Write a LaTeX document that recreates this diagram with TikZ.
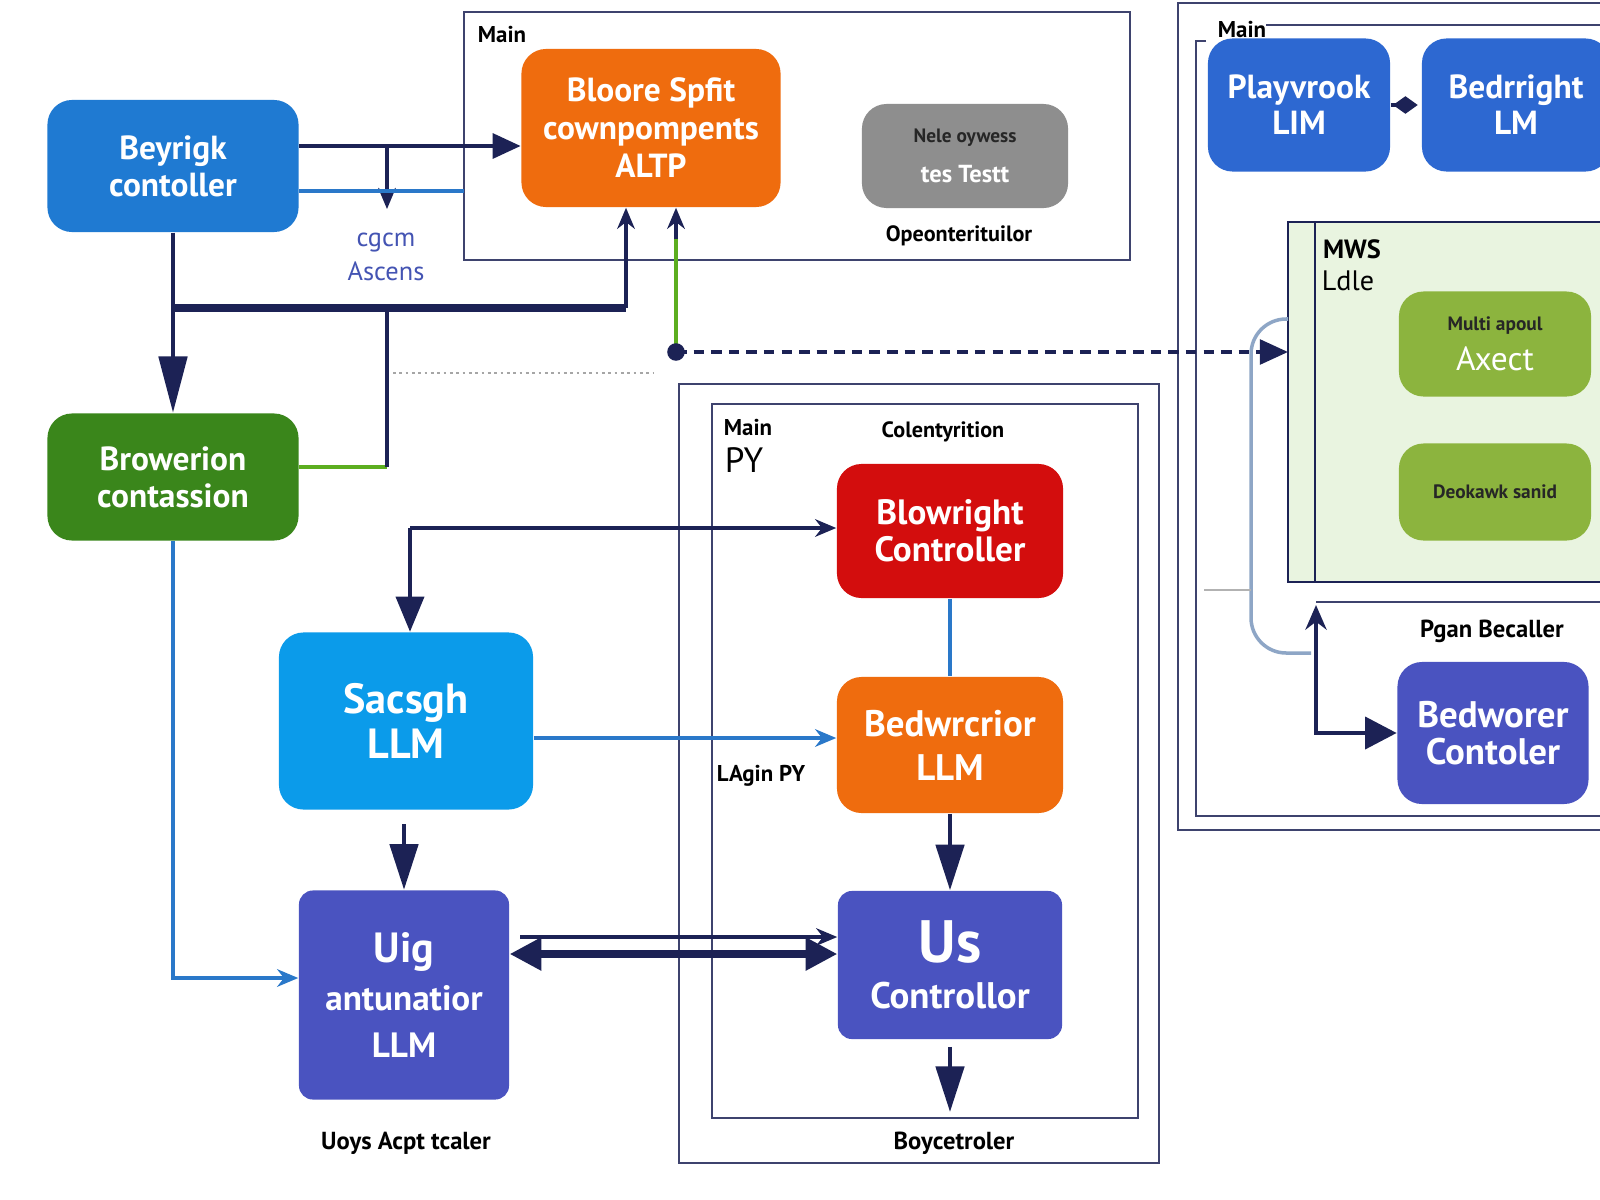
\documentclass[tikz,border=0pt]{standalone}
\usepackage{fontspec}
\setmainfont{PT Sans}
\usetikzlibrary{arrows.meta}
\definecolor{navy}{HTML}{1C2255}
\definecolor{beyblue}{HTML}{1F7AD2}
\definecolor{browgreen}{HTML}{3A861B}
\definecolor{orangebox}{HTML}{EF6C0E}
\definecolor{greybox}{HTML}{8E8E8E}
\definecolor{playblue}{HTML}{2D68D1}
\definecolor{leafgreen}{HTML}{8CB43E}
\definecolor{panelgreen}{HTML}{E9F4E0}
\definecolor{indigo}{HTML}{4A53C0}
\definecolor{skyblue}{HTML}{0B9BEA}
\definecolor{redbox}{HTML}{D30D0D}
\definecolor{thinblue}{HTML}{2A78C9}
\definecolor{wiregreen}{HTML}{5CAE1F}
\definecolor{steel}{HTML}{8EA6C6}

\begin{document}
\begin{tikzpicture}[x=0.01cm, y=-0.01cm,
    box/.style={rounded corners=7pt, text=white, align=center,
      font=\bfseries\fontsize{9.5}{10.5}\selectfont},
    frame/.style={draw=navy!85, line width=0.7pt},
    lbl/.style={font=\bfseries\fontsize{6.5}{8}\selectfont},
    link/.style={draw=navy, line width=1.3pt},
    bline/.style={draw=thinblue, line width=1pt},
    stip/.style={-{Stealth[length=6pt,width=5pt]}},
    bigtip/.style={-{Triangle[length=13pt,width=8pt]}}]
  \useasboundingbox (0,0) rectangle (1600,1200);
  \clip (0,0) rectangle (1600,1200);
  \fill[white] (0,0) rectangle (1600,1200);

  % frames
  \draw[frame] (464,12) rectangle (1130,260);
  \node[lbl] (mainTop) at (502,34) {Main};
  \draw[frame] (1178,3) rectangle (1610,830);
  \draw[frame] (1206,41) -- (1196,41) -- (1196,816) -- (1610,816);
  \draw[frame] (1266,25) -- (1610,25);
  \node[lbl] (mainRight) at (1242,29) {Main};
  \draw[frame] (679,384) rectangle (1159,1163);
  \draw[frame] (712,404) rectangle (1138,1118);
  \node[lbl] (mainMid) at (748,427) {Main};
  \node[font=\fontsize{10}{12}\selectfont] (pyMid) at (744,460) {PY};

  % green panel
  \draw[draw=navy, line width=0.8pt, fill=panelgreen] (1288,222) rectangle (1610,582);
  \draw[navy, line width=0.6pt] (1315,222) -- (1315,582);
  \node[lbl, font=\bfseries\fontsize{7.5}{9}\selectfont] (mws) at (1352,249) {MWS};
  \node[font=\fontsize{8}{9}\selectfont] (ldle) at (1348,281) {Ldle};
  \draw[frame] (1316,602) -- (1610,602);

  % boxes
  \node[box, fill=beyblue, minimum width=2.51cm, minimum height=1.32cm] (beyrigk) at (173,166) {Beyrigk\\contoller};
  \node[box, fill=browgreen, minimum width=2.51cm, minimum height=1.27cm] (browerion) at (173,477) {Browerion\\contassion};
  \node[box, fill=orangebox, minimum width=2.59cm, minimum height=1.58cm,
        font=\bfseries\fontsize{9.5}{10.8}\selectfont] (bloore) at (651,128) {Bloore Spfit\\cownpompents\\ALTP};
  \node[box, fill=greybox, minimum width=2.06cm, minimum height=1.04cm] (nele) at (965,156)
        {{\color{black!85}\fontsize{5.5}{7}\selectfont Nele oywess}\\[1pt]{\fontsize{7}{8}\selectfont tes Testt}};
  \node[lbl, font=\bfseries\fontsize{6.3}{8}\selectfont] (opeon) at (959,236) {Opeonterituilor};

  \node[box, fill=playblue, minimum width=1.82cm, minimum height=1.33cm,
        font=\bfseries\fontsize{9.5}{10.3}\selectfont] (playvrook) at (1299,105) {Playvrook\\LIM};
  \node[box, fill=playblue, minimum width=1.88cm, minimum height=1.33cm,
        font=\bfseries\fontsize{9.5}{10.3}\selectfont] (bedrright) at (1516,105) {Bedrright\\LM};

  \node[box, fill=leafgreen, minimum width=1.92cm, minimum height=1.05cm] (multi) at (1495,344)
        {{\color{black!85}\fontsize{5.5}{7}\selectfont Multi apoul}\\[1pt]{\mdseries\fontsize{9.5}{10}\selectfont Axect}};
  \node[box, fill=leafgreen, minimum width=1.92cm, minimum height=0.97cm,
        text=black!85, font=\bfseries\fontsize{5.5}{7}\selectfont] (deok) at (1495,492) {Deokawk sanid};
  \node[lbl, font=\bfseries\fontsize{7}{8}\selectfont] (pgan) at (1492,631) {Pgan Becaller};
  \node[box, fill=indigo, minimum width=1.91cm, minimum height=1.42cm,
        font=\bfseries\fontsize{10.5}{10.5}\selectfont] (bedworer) at (1493,733) {Bedworer\\Contoler};

  \node[box, fill=skyblue, minimum width=2.54cm, minimum height=1.77cm,
        font=\bfseries\fontsize{12}{12.6}\selectfont] (sacgh) at (406,721) {Sacsgh\\LLM};
  \node[box, fill=indigo, rounded corners=4pt, minimum width=2.10cm, minimum height=2.09cm,
        font=\bfseries\fontsize{10}{13.5}\selectfont] (uig) at (404,995) {{\fontsize{12}{13}\selectfont Uig}\\antunatior\\LLM};
  \node[lbl, font=\bfseries\fontsize{7}{8}\selectfont] (uoys) at (406,1143) {Uoys Acpt tcaler};

  \node[lbl, font=\bfseries\fontsize{6.3}{8}\selectfont] (colent) at (943,432) {Colentyrition};
  \node[box, fill=redbox, minimum width=2.26cm, minimum height=1.34cm,
        font=\bfseries\fontsize{10}{10.4}\selectfont] (blowright) at (950,531) {Blowright\\Controller};
  \node[box, fill=orangebox, minimum width=2.26cm, minimum height=1.36cm,
        font=\bfseries\fontsize{10.5}{12.5}\selectfont] (bedwrcrior) at (950,745) {Bedwrcrior\\LLM};
  \node[lbl, font=\bfseries\fontsize{6.5}{8}\selectfont] (lagin) at (761,776) {LAgin PY};
  \node[box, fill=indigo, rounded corners=4pt, minimum width=2.24cm, minimum height=1.48cm,
        font=\bfseries\fontsize{10.5}{13}\selectfont] (us) at (950,965) {{\fontsize{17}{16}\selectfont Us}\\Controllor};
  \node[lbl, font=\bfseries\fontsize{7}{8}\selectfont] (boyce) at (954,1143) {Boycetroler};

  \node[text=thinblue!70!violet, align=center, font=\fontsize{7.5}{9.5}\selectfont] (cgcm) at (386,257) {cgcm\\Ascens};

  % junction points
  \coordinate (jA) at (387,146);
  \coordinate (jAend) at (387,209);
  \coordinate (fA) at (464,191);
  \coordinate (busL) at (173,308);
  \coordinate (busM) at (387,308);
  \coordinate (busR) at (626,308);
  \coordinate (jB) at (387,467);
  \coordinate (jG) at (676,352);
  \coordinate (dotA) at (393,373);
  \coordinate (dotB) at (653,373);
  \coordinate (jC) at (410,528);
  \coordinate (jD) at (1316,605);
  \coordinate (usOut) at (950,1112);
  \coordinate (stA) at (1204,590);
  \coordinate (stB) at (1251,590);

  % connectors
  \draw[link, -{Triangle[length=8pt,width=7pt]}] (beyrigk.east |- jA) -- (bloore.west |- jA);
  \draw[link, line width=0.9pt, stip] (jA) -- (jAend);
  \draw[bline] (beyrigk.east |- fA) -- (fA);
  \draw[link, -{Triangle[length=16pt,width=8pt]}] (beyrigk.south) -- (browerion.north);
  \draw[link, line width=2.4pt] (busL) -- (busR);
  \draw[link, stip] (busR) -- (bloore.south -| busR);
  \draw[wiregreen, line width=1.4pt] (browerion.east |- jB) -- (jB);
  \draw[link] (jB) -- (busM);
  \draw[wiregreen, line width=1.2pt] (jG) -- ([yshift=-8pt]bloore.south -| jG);
  \draw[navy, line width=1.2pt, stip] ([yshift=-9pt]bloore.south -| jG) -- (bloore.south -| jG);
  \draw[navy, line width=1.1pt, densely dashed, -{Triangle[length=8pt,width=7pt]}] (jG) -- (1288,352);
  \fill[navy] (jG) circle (2.5pt);
  \draw[gray!70, line width=0.8pt, densely dotted] (dotA) -- (dotB);
  \draw[bline, stip] (browerion.south) |- (uig.west |- 0,978);
  \draw[link, line width=1pt, stip] (jC) -- (blowright.west |- jC);
  \draw[link, line width=1pt, -{Triangle[length=10pt,width=8pt]}] (jC) -- (sacgh.north -| jC);
  \draw[bline, stip] (sacgh.east |- 0,738) -- (bedwrcrior.west |- 0,738);
  \draw[link, bigtip, shorten <=4pt] (sacgh.south -| uig.north) -- (uig.north);
  \draw[link, line width=0.9pt, stip] (520,937) -- (us.west |- 0,937);
  \draw[link, line width=2pt, {Triangle[length=9pt,width=9pt]}-{Triangle[length=9pt,width=9pt]}] (uig.east |- 0,954) -- (us.west |- 0,954);
  \draw[thinblue, line width=1pt] (blowright.south) -- (bedwrcrior.north);
  \draw[link, bigtip] (bedwrcrior.south) -- (us.north);
  \draw[link, bigtip, shorten <=2pt] (us.south) -- (usOut);
  \draw[link, line width=1pt, -{Diamond[length=7pt,width=5pt]}] (playvrook.east) -- ([xshift=-1pt]bedrright.west);
  \draw[link, line width=1.4pt, {Stealth[length=7pt,width=6pt]}-{Triangle[length=9pt,width=9pt]}] (jD) |- (bedworer.west);
  \draw[steel, line width=1pt, rounded corners=10pt] (1288,319) -- (1251,319) -- (1251,653) -- (1311,653);
  \draw[gray!60, line width=0.8pt] (stA) -- (stB);
\end{tikzpicture}
\end{document}
